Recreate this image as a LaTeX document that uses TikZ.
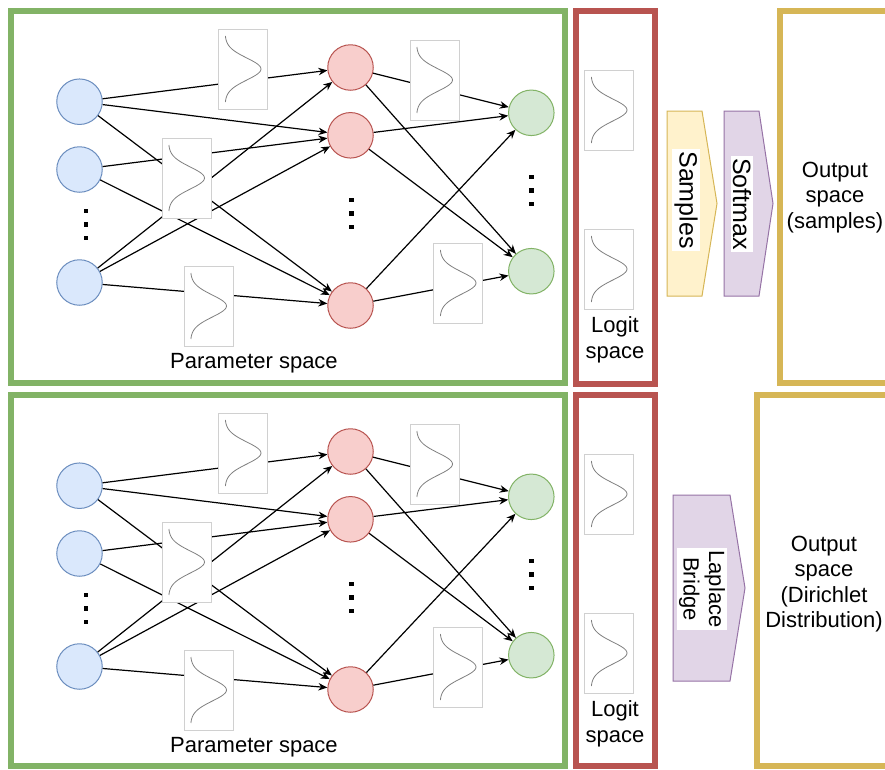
\documentclass[tikz,border=0pt]{standalone}
\usepackage{fontspec}
\setmainfont{Liberation Sans}
\usetikzlibrary{arrows.meta}
\definecolor{bfill}{HTML}{DAE8FC}\definecolor{bline}{HTML}{6C8EBF}
\definecolor{rfill}{HTML}{F8CECC}\definecolor{rline}{HTML}{B85450}
\definecolor{gfill}{HTML}{D5E8D4}\definecolor{gline}{HTML}{82B366}
\definecolor{yfill}{HTML}{FFF2CC}\definecolor{yline}{HTML}{D6B656}
\definecolor{pfill}{HTML}{E1D5E7}\definecolor{pline}{HTML}{9673A6}
\definecolor{boxline}{HTML}{D0D0D0}
\definecolor{curve}{HTML}{808080}
\tikzset{
  neuron/.style={circle, minimum size=45.5pt, inner sep=0pt, line width=1pt},
  inp/.style={neuron, draw=bline, fill=bfill},
  hid/.style={neuron, draw=rline, fill=rfill},
  outn/.style={neuron, draw=gline, fill=gfill},
  conn/.style={line width=1.2pt, draw=black},
  arr/.style={conn, -{Stealth[length=9pt,width=7.5pt]}},
  gbox/.style={rectangle, draw=boxline, fill=white, line width=1pt, minimum width=49pt, minimum height=80pt, inner sep=0pt},
  frame/.style={line width=6.5pt},
  lbl/.style={font=\fontsize{22}{25.5}\selectfont, align=center, inner sep=0pt},
  rlbl/.style={font=\fontsize{25}{27}\selectfont, fill=white, inner sep=2pt, rotate=-90},
  vdot/.style={rectangle, fill=black, minimum size=4.5pt, inner sep=0pt},
  shapeline/.style={line width=1pt},
}
\newcommand\gaussbox[2]{%
  \node[gbox] (#1) at (#2) {};
  \begin{scope}[shift={(#1.center)}]
    \draw[curve, line width=0.8pt] plot[domain=-33:33, samples=45, smooth]
      ({-18+36*exp(-0.5*(\x/11)*(\x/11))},\x);
  \end{scope}}
\newcommand\drawpanel[2]{%
\begin{scope}[shift={(0,#2)}]
  \node[inp] (b1#1) at (79.5,101.7) {};
  \node[inp] (b2#1) at (79.5,169.5) {};
  \node[inp] (b3#1) at (79.5,282.5) {};
  \node[hid] (r1#1) at (350.5,67.5) {};
  \node[hid] (r2#1) at (350.5,135.3) {};
  \node[hid] (r3#1) at (350.5,305.5) {};
  \node[outn] (g1#1) at (531.3,112.8) {};
  \node[outn] (g2#1) at (531.3,271.2) {};
  \node[vdot] (bda#1) at (86,211) {};
  \node[vdot] (bdb#1) at (86,224.5) {};
  \node[vdot] (bdc#1) at (86,238) {};
  \node[vdot] (rda#1) at (351.5,200) {};
  \node[vdot] (rdb#1) at (351.5,213.5) {};
  \node[vdot] (rdc#1) at (351.5,227) {};
  \node[vdot] (gda#1) at (531.7,177) {};
  \node[vdot] (gdb#1) at (531.7,190.5) {};
  \node[vdot] (gdc#1) at (531.7,204) {};
  \draw[arr] (b1#1) -- (r1#1);
  \draw[arr] (b1#1) -- (r2#1);
  \draw[arr] (b1#1) -- (r3#1);
  \draw[arr] (b2#1) -- (r2#1);
  \draw[arr] (b2#1) -- (r3#1);
  \draw[arr] (b3#1) -- (r1#1);
  \draw[arr] (b3#1) -- (r2#1);
  \draw[arr] (b3#1) -- (r3#1);
  \draw[arr] (r1#1) -- (g1#1);
  \draw[arr] (r1#1) -- (g2#1);
  \draw[arr] (r2#1) -- (g1#1);
  \draw[arr] (r2#1) -- (g2#1);
  \draw[arr] (r3#1) -- (g1#1);
  \draw[arr] (r3#1) -- (g2#1);
  \gaussbox{wa#1}{243,69}
  \gaussbox{wb#1}{186.5,178}
  \gaussbox{wc#1}{208.5,306}
  \gaussbox{wd#1}{434.5,80}
  \gaussbox{we#1}{458,283}
  \gaussbox{la#1}{609,110}
  \gaussbox{lb#1}{609,269}
  \node[lbl, anchor=base] (ps#1) at (254,368) {Parameter space};
  \node[lbl] (ls#1) at (615,340) {Logit\\space};
\end{scope}}
\begin{document}
\begin{tikzpicture}[x=1pt,y=-1pt]
  \useasboundingbox (0,0) rectangle (885,769);
  \clip (0,0) rectangle (885,769);
  \fill[white] (0,0) rectangle (885,769);
  % frames
  \draw[frame, gline] (11,11) rectangle (565,383);
  \draw[frame, rline] (576,11) rectangle (655,384);
  \draw[frame, yline] (780,11) rectangle (900,383);
  \draw[frame, gline] (11,395) rectangle (565,766);
  \draw[frame, rline] (576,395) rectangle (655,766);
  \draw[frame, yline] (757,395) rectangle (900,766);
  \drawpanel{t}{0}
  \drawpanel{u}{384}
  % top right
  \draw[shapeline, draw=yline, fill=yfill] (667,111) -- (702,111) -- (717,203.5) -- (702,296) -- (667,296) -- cycle;
  \draw[shapeline, draw=pline, fill=pfill] (724,111) -- (759,111) -- (773,203.5) -- (759,296) -- (724,296) -- cycle;
  \node[rlbl] (samp) at (686,200) {Samples};
  \node[rlbl] (soft) at (742,204) {Softmax};
  \node[lbl] (outa) at (835,197.5) {Output\\space\\(samples)};
  % bottom right
  \draw[shapeline, draw=pline, fill=pfill] (673,495) -- (730,495) -- (745,588) -- (730,681) -- (673,681) -- cycle;
  \node[lbl, fill=white, inner sep=2pt, rotate=-90] (lap) at (702,589) {Laplace\\Bridge};
  \node[lbl] (outb) at (824,584) {Output\\space\\(Dirichlet\\Distribution)};
\end{tikzpicture}
\end{document}
